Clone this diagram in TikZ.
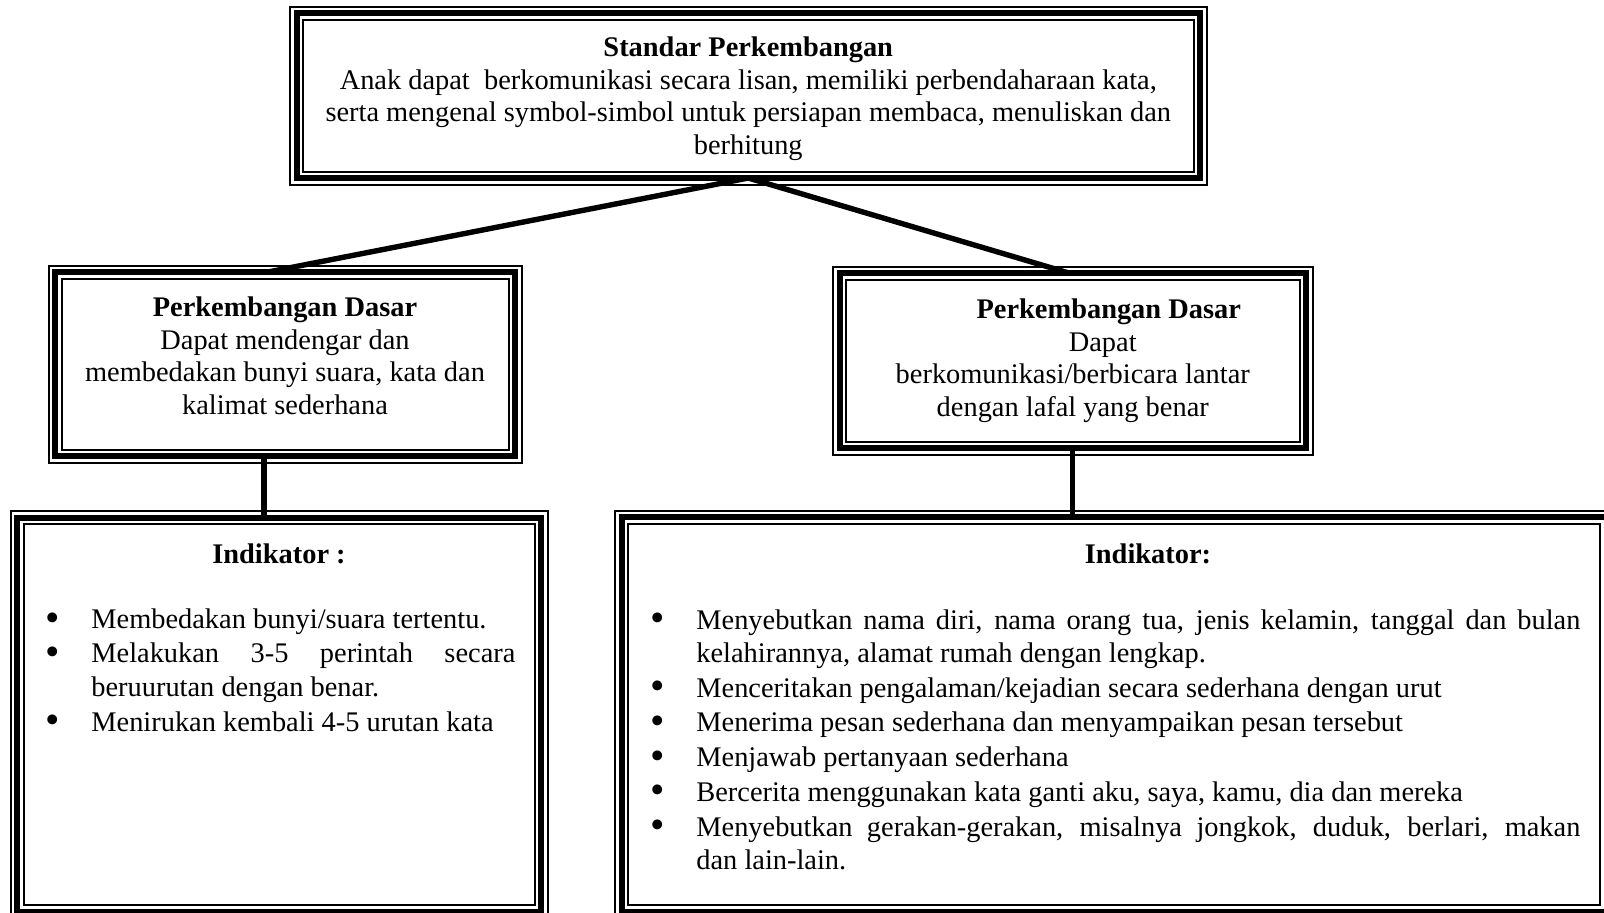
\documentclass[tikz,border=0pt]{standalone}
\usepackage{fontspec}
\usepackage{graphicx}
\setmainfont{Liberation Serif}
\usetikzlibrary{positioning}

\newcommand{\butir}[1]{\makebox[23pt][l]{\raisebox{-1.2pt}{\scalebox{1.45}{\textbullet}}}#1}
\newcommand{\lanjut}{\hspace*{23pt}}

\begin{document}
\begin{tikzpicture}
    [x=0.5pt,y=-0.5pt,
    tribox/.style={draw,line width=3pt,inner sep=0pt,outer sep=0pt,
    preaction={draw,line width=7.5pt},
    preaction={draw,white,line width=5.5pt}},
    garis/.style={line width=2.7pt},
    teks/.style={inner sep=0pt,font=\fontsize{14.2pt}{16.25pt}\selectfont},
    daftar/.style={inner sep=0pt,align=left,font=\fontsize{14.2pt}{16.6pt}\selectfont}]
    \useasboundingbox (0,0) rectangle (1604,912);
    % kotak
    \node[tribox,minimum width=451.75pt,minimum height=82.5pt] (standar) at (748.25,95.5) {};
    \node[tribox,minimum width=230pt,minimum height=92pt] (dasarkiri) at (285,364) {};
    \node[tribox,minimum width=233.25pt,minimum height=87.5pt] (dasarkanan) at (1072.75,360.5) {};
    \node[tribox,minimum width=262pt,minimum height=197pt] (indikiri) at (279,714.5) {};
    \node[tribox,minimum width=492.5pt,minimum height=197.25pt] (indikanan) at (1114,714.25) {};
    % teks
    \node[teks,align=center] (standarteks) at ([yshift=-1.5pt]standar) {\textbf{Standar Perkembangan}\\
        Anak dapat \ berkomunikasi secara lisan, memiliki perbendaharaan kata,\\
        serta mengenal symbol-simbol untuk persiapan membaca, menuliskan dan\\
        berhitung};
    \node[teks,align=center] (dasarkiriteks) at ([yshift=4pt]dasarkiri) {\textbf{Perkembangan Dasar}\\
        Dapat mendengar dan\\
        membedakan bunyi suara, kata dan\\
        kalimat sederhana};
    \node[teks,align=center] (dasarkananteks) at (dasarkanan) {\hspace*{36pt}\textbf{Perkembangan Dasar}\\
        \hspace*{30pt}Dapat\\
        berkomunikasi/berbicara lantar\\
        dengan lafal yang benar};
    \node[teks,anchor=base] (judulkiri) at ([yshift=-22.75pt]indikiri.north) {\textbf{Indikator :}};
    \node[teks,anchor=base] (judulkanan) at ([xshift=17pt,yshift=-23pt]indikanan.north) {\textbf{Indikator:}};
    \node[daftar,anchor=north west] (daftarkiri) at ([xshift=14pt,yshift=-45.5pt]indikiri.north west) {%
        \butir{Membedakan bunyi/suara tertentu.}\\[0.5pt]
        \butir{\makebox[212pt][s]{Melakukan 3-5 perintah secara}}\\
        \lanjut beruurutan dengan benar.\\[1pt]
        \butir{Menirukan kembali 4-5 urutan kata}};
    \node[daftar,anchor=north west] (daftarkanan) at ([xshift=14.25pt,yshift=-46pt]indikanan.north west) {%
        \butir{\makebox[442pt][s]{Menyebutkan nama diri, nama orang tua, jenis kelamin, tanggal dan bulan}}\\
        \lanjut kelahirannya, alamat rumah dengan lengkap.\\[1pt]
        \butir{Menceritakan pengalaman/kejadian secara sederhana dengan urut}\\[0.5pt]
        \butir{Menerima pesan sederhana dan menyampaikan pesan tersebut}\\[1pt]
        \butir{Menjawab pertanyaan sederhana}\\[0.5pt]
        \butir{Bercerita menggunakan kata ganti aku, saya, kamu, dia dan mereka}\\[1pt]
        \butir{\makebox[442pt][s]{Menyebutkan gerakan-gerakan, misalnya jongkok, duduk, berlari, makan}}\\
        \lanjut dan lain-lain.};
    % garis penghubung
    \draw[garis] (standar.south) -- ([xshift=-8.5pt]dasarkiri.north);
    \draw[garis] (standar.south) -- ([xshift=-2pt]dasarkanan.north);
    \draw[garis] ([xshift=-10.5pt]dasarkiri.south) -- ([xshift=-10.5pt]dasarkiri.south |- indikiri.north);
    \draw[garis] (dasarkanan.south) -- (dasarkanan.south |- indikanan.north);
\end{tikzpicture}
\end{document}
